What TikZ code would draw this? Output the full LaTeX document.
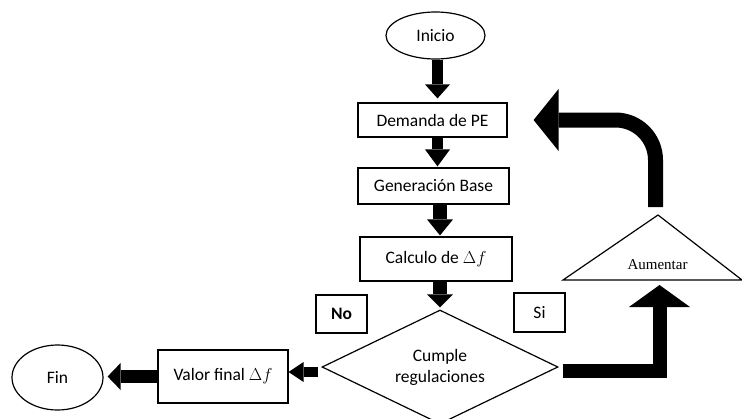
\documentclass[tikz,border=0pt]{standalone}
\usepackage{fontspec}
\setmainfont{Carlito}
\newfontfamily\timesf{Liberation Serif}
\usetikzlibrary{shapes.geometric,arrows.meta,calc}
\tikzset{
  txt/.style={font=\fontsize{17.5}{21}\selectfont},
  boxnode/.style={draw, line width=1.2pt, inner sep=0pt, txt, align=center},
  termnode/.style={ellipse, draw, line width=1.2pt, inner sep=0pt, txt},
  decnode/.style={diamond, aspect=2, draw, line width=1.2pt, inner sep=0pt, txt, align=center},
  blkarrow/.style n args={3}{line width=#1, -{Triangle[length=#2, width=#3, line width=0pt]}}
}
\begin{document}
\begin{tikzpicture}[x=1pt,y=-1pt]
\useasboundingbox (0,0) rectangle (742,418);
% nodes
\node[termnode, minimum width=99pt, minimum height=47pt] (inicio) at (435.5,35.5) {Inicio};
\node[boxnode, minimum width=149pt, minimum height=34pt] (demanda) at (432.5,120) {Demanda de PE};
\node[boxnode, minimum width=151pt, minimum height=36pt] (gen) at (433.5,186) {Generación Base};
\node[boxnode, minimum width=152pt, minimum height=44pt] (calc) at (436,259) {Calculo de $\Delta f$};
\node[decnode, minimum width=236pt, minimum height=114pt] (dia) at (440,367) {Cumple\\regulaciones};
\node[boxnode, minimum width=51pt, minimum height=38pt, font=\fontsize{17.5}{21}\selectfont\bfseries] (no) at (341.5,314) {No};
\node[boxnode, minimum width=51pt, minimum height=39pt] (si) at (539.5,312.5) {Si};
\node[boxnode, minimum width=130pt, minimum height=53pt] (valor) at (223,376.5) {Valor final $\Delta f$};
\node[termnode, minimum width=91pt, minimum height=65pt] (fin) at (57.5,377.5) {Fin};
% Aumentar triangle
\coordinate (apex) at (658,215);
\coordinate (aumL) at (563,280);
\coordinate (aumR) at (742,280);
\coordinate (aumB) at (659.5,280);
\draw[line width=1.2pt] (aumL) -- (apex) -- (aumR) -- cycle;
\node[font=\timesf\fontsize{15}{18}\selectfont, inner sep=0pt] (aum) at (657.5,265) {Aumentar};
% arrows
\draw[blkarrow={11.5pt}{14pt}{25pt}, shorten >=4pt] ([xshift=2pt]inicio.south) -- ([xshift=5pt]demanda.north);
\draw[blkarrow={11.5pt}{17pt}{25pt}, shorten >=1pt] ([xshift=5pt]demanda.south) -- ([xshift=4pt]gen.north);
\draw[blkarrow={14pt}{16pt}{26pt}, shorten >=1pt] ([xshift=6.5pt]gen.south) -- ([xshift=4pt]calc.north);
\draw[blkarrow={14pt}{13pt}{26pt}, shorten >=2pt] ([xshift=4pt]calc.south) -- (dia.north);
\coordinate (dl) at ($(dia.west)+(-3,5)$);
\draw[blkarrow={10pt}{15pt}{20pt}] (dl) -- (valor.east |- dl);
\draw[blkarrow={13pt}{13pt}{27pt}, shorten >=4pt] (valor.west) -- (fin.east |- valor.west);
\coordinate (dr) at ($(dia.east)+(4,4)$);
\draw[blkarrow={14pt}{22pt}{61pt}, shorten >=5pt] (dr) -| (aumB);
\coordinate (ap) at ($(apex)+(-2.5,-8)$);
\draw[blkarrow={15pt}{25pt}{62pt}, rounded corners=40pt, shorten >=26pt] (ap) |- (demanda.east);
\end{tikzpicture}
\end{document}
